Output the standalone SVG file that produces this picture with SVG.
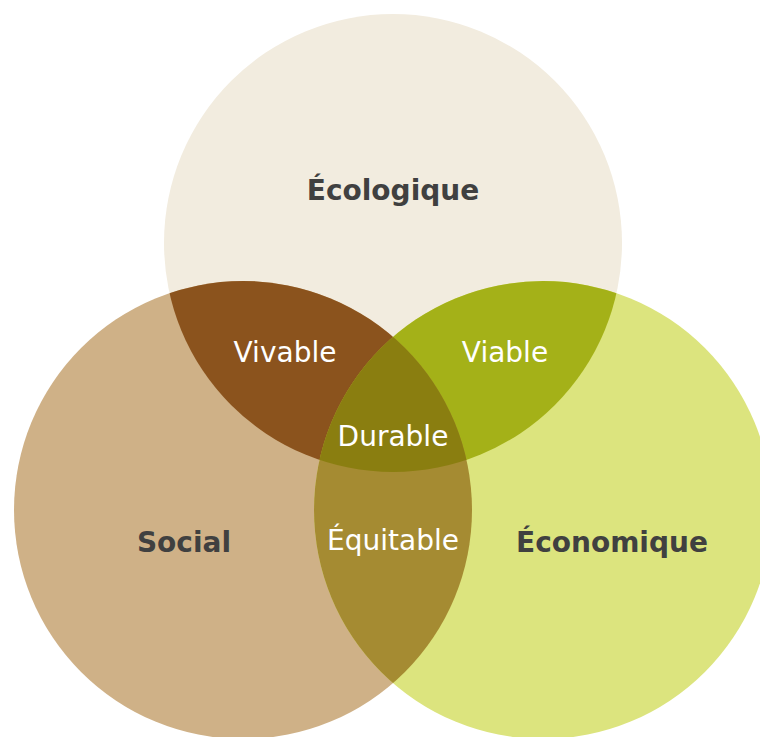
<svg xmlns="http://www.w3.org/2000/svg" width="760" height="737" viewBox="0 0 760 737">
<style>
.lbl{font-family:"DejaVu Sans","Liberation Sans",sans-serif;font-size:28px;text-anchor:middle}
.dark{fill:#404040;font-weight:bold}
.light{fill:#ffffff}
</style>
<defs>
<circle id="cTop" cx="393" cy="243" r="229"/>
<circle id="cLeft" cx="243" cy="510" r="229"/>
<circle id="cRight" cx="543" cy="510" r="229"/>
<clipPath id="clipTop"><use href="#cTop"/></clipPath>
<clipPath id="clipLeft"><use href="#cLeft"/></clipPath>
<clipPath id="clipRight"><use href="#cRight"/></clipPath>
</defs>
<rect width="760" height="737" fill="#ffffff"/>
<g id="ecologique">
<use href="#cTop" fill="#F2ECDF"/>
<text class="lbl dark" x="393" y="200">Écologique</text>
</g>
<g id="social">
<use href="#cLeft" fill="#CFB187"/>
<text class="lbl dark" x="184" y="552">Social</text>
</g>
<g id="economique">
<use href="#cRight" fill="#DCE47E"/>
<text class="lbl dark" x="612" y="552">Économique</text>
</g>
<g id="vivable">
<g clip-path="url(#clipTop)"><use href="#cLeft" fill="#8B531D"/></g>
<text class="lbl light" x="285" y="362">Vivable</text>
</g>
<g id="viable">
<g clip-path="url(#clipTop)"><use href="#cRight" fill="#A4B118"/></g>
<text class="lbl light" x="505" y="362">Viable</text>
</g>
<g id="equitable">
<g clip-path="url(#clipLeft)"><use href="#cRight" fill="#A58B32"/></g>
<text class="lbl light" x="393" y="550">Équitable</text>
</g>
<g id="durable">
<g clip-path="url(#clipTop)"><g clip-path="url(#clipLeft)"><use href="#cRight" fill="#8A7E10"/></g></g>
<text class="lbl light" x="393" y="446">Durable</text>
</g>
<g id="connectors"/>
</svg>
